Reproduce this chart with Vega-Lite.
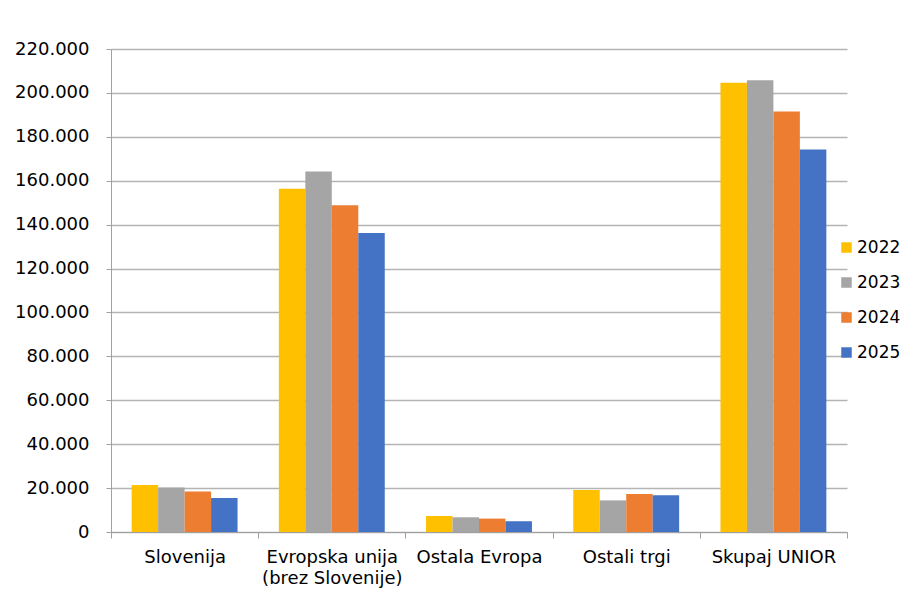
{
  "$schema": "https://vega.github.io/schema/vega-lite/v6.json",
  "width": 736,
  "height": 483,
  "padding": {"left": 14, "top": 40, "right": 5, "bottom": 5},
  "background": "white",
  "config": {
    "font": "DejaVu Sans",
    "view": {"stroke": null},
    "locale": {"number": {"decimal": ",", "thousands": ".", "grouping": [3], "currency": ["", " €"]}}
  },
  "data": {
    "values": [
      {"region": "Slovenija", "year": "2022", "value": 21400},
      {"region": "Slovenija", "year": "2023", "value": 20300},
      {"region": "Slovenija", "year": "2024", "value": 18500},
      {"region": "Slovenija", "year": "2025", "value": 15500},
      {"region": "Evropska unija|(brez Slovenije)", "year": "2022", "value": 156300},
      {"region": "Evropska unija|(brez Slovenije)", "year": "2023", "value": 164200},
      {"region": "Evropska unija|(brez Slovenije)", "year": "2024", "value": 148800},
      {"region": "Evropska unija|(brez Slovenije)", "year": "2025", "value": 136200},
      {"region": "Ostala Evropa", "year": "2022", "value": 7300},
      {"region": "Ostala Evropa", "year": "2023", "value": 6700},
      {"region": "Ostala Evropa", "year": "2024", "value": 6100},
      {"region": "Ostala Evropa", "year": "2025", "value": 4900},
      {"region": "Ostali trgi", "year": "2022", "value": 19100},
      {"region": "Ostali trgi", "year": "2023", "value": 14400},
      {"region": "Ostali trgi", "year": "2024", "value": 17300},
      {"region": "Ostali trgi", "year": "2025", "value": 16700},
      {"region": "Skupaj UNIOR", "year": "2022", "value": 204600},
      {"region": "Skupaj UNIOR", "year": "2023", "value": 205800},
      {"region": "Skupaj UNIOR", "year": "2024", "value": 191500},
      {"region": "Skupaj UNIOR", "year": "2025", "value": 174200}
    ]
  },
  "mark": {"type": "bar"},
  "encoding": {
    "x": {
      "field": "region",
      "type": "nominal",
      "sort": null,
      "scale": {"paddingInner": 0, "paddingOuter": 0},
      "axis": {
        "title": null,
        "labelAngle": 0,
        "labelExpr": "split(datum.label, '|')",
        "labelFontSize": 18,
        "labelColor": "#000000",
        "labelPadding": 10,
        "labelLineHeight": 21,
        "tickBand": "extent",
        "tickSize": 6,
        "tickColor": "#a0a0a0",
        "domainColor": "#a0a0a0",
        "grid": false
      }
    },
    "xOffset": {
      "field": "year",
      "type": "nominal",
      "scale": {"paddingInner": 0, "paddingOuter": 0.78}
    },
    "y": {
      "field": "value",
      "type": "quantitative",
      "scale": {"domain": [0, 220000], "nice": false},
      "axis": {
        "title": null,
        "format": ",d",
        "values": [0, 20000, 40000, 60000, 80000, 100000, 120000, 140000, 160000, 180000, 200000, 220000],
        "labelFontSize": 18,
        "labelColor": "#000000",
        "labelPadding": 17,
        "tickSize": 5,
        "tickColor": "#a0a0a0",
        "domainColor": "#a0a0a0",
        "gridColor": "#b4b4b4",
        "gridWidth": 1.5
      }
    },
    "color": {
      "field": "year",
      "type": "nominal",
      "scale": {"domain": ["2022", "2023", "2024", "2025"], "range": ["#FFC000", "#A5A5A5", "#ED7D31", "#4472C4"]},
      "legend": {
        "title": null,
        "orient": "none",
        "legendX": 727,
        "legendY": 190,
        "padding": 0,
        "symbolType": "square",
        "symbolSize": 110,
        "symbolStrokeWidth": 0,
        "labelFontSize": 17,
        "labelColor": "#000000",
        "labelOffset": 2,
        "rowPadding": 17
      }
    }
  }
}
